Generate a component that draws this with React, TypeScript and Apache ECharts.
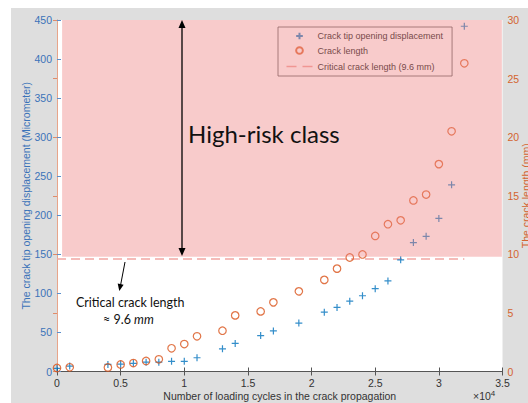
import React, { useEffect, useRef } from 'react';
import * as echarts from 'echarts';

// ---- data ----
const cycles = [0, 1000, 4000, 5000, 6000, 7000, 8000, 9000, 10000, 11000, 13000, 14000, 16000, 17000, 19000, 21000, 22000, 23000, 24000, 25000, 26000, 27000, 28000, 29000, 30000, 31000, 32000];
const ctodMicrometer = [4, 7, 9, 9.5, 10.5, 12, 12, 13, 13, 17.6, 29, 36, 46, 52, 62, 76, 82, 90, 97, 106, 116, 143, 165, 173, 196, 239, 442];
const crackLengthMm = [0.3, 0.36, 0.35, 0.6, 0.72, 0.9, 1.04, 1.98, 2.34, 3.0, 3.48, 4.79, 5.13, 5.9, 6.84, 7.82, 8.78, 9.73, 9.99, 11.57, 12.57, 12.9, 14.6, 15.1, 17.7, 20.5, 26.3];
const criticalLengthMm = 9.6;
const criticalLineCycles = [0, 32000];
const xTickLabels = ['0', '0.5', '1', '1.5', '2', '2.5', '3', '3.5'];
const highRiskZone = [400, 9.8, 34950, 30]; // x0, y0, x1, y1 (cycles, mm)

const names = {
  ctod: 'Crack tip opening displacement',
  crack: 'Crack length',
  critical: 'Critical crack length (9.6 mm)',
};

const BLUE = '#0072BD';
const ORANGE = '#D95319';
const DASH = '#f2a7a2';
const FONT = 'Liberation Sans, Arial, Helvetica, sans-serif';
const PLUS = 'path://M0,0M12,12M2,6L10,6M6,2L6,10';
const RING = 'path://M0,0M12,12M10,6A4,4,0,1,1,2,6A4,4,0,1,1,10,6Z';
const DASHES = 'path://M0,0M26,10M0,5L10,5M16,5L26,5';

export default function App() {
  const ref = useRef<HTMLDivElement>(null);
  useEffect(() => {
    if (!ref.current) return;
    const chart = echarts.init(ref.current, null, { renderer: 'svg' });
    const option: any = {
      animation: false,
      backgroundColor: 'transparent',
      grid: {
        left: 57, right: 25.5, top: 20, bottom: 31.5,
        containLabel: false, outerBoundsMode: 'none',
        show: true, backgroundColor: '#ffffff', borderWidth: 0,
      },
      legend: {
        left: 278, top: 27, orient: 'vertical',
        padding: [3, 9, 2, 6], itemGap: 2.5, itemWidth: 26, itemHeight: 10,
        borderColor: '#555', borderWidth: 0.8, backgroundColor: 'transparent',
        selectedMode: false,
        textStyle: { fontSize: 9, color: '#262626', fontFamily: FONT },
        data: [
          { name: names.ctod, icon: PLUS },
          { name: names.crack, icon: RING },
          {
            name: names.critical, icon: DASHES,
            itemStyle: { color: 'none', borderColor: DASH, borderWidth: 1.5 },
          },
        ],
      },
      xAxis: [
        {
          type: 'value', position: 'bottom', min: 0, max: 35000, interval: 5000,
          axisLine: { show: true, lineStyle: { color: '#555', width: 1 } },
          axisTick: { show: true, inside: true, length: 4, lineStyle: { color: '#555' } },
          axisLabel: {
            color: '#333', fontSize: 10.5, fontFamily: FONT, margin: 6,
            formatter: (v: number) => xTickLabels[Math.round(v / 5000)] ?? '',
          },
          splitLine: { show: false },
          name: 'Number of loading cycles in the crack propagation',
          nameLocation: 'middle', nameGap: 19, nameMoveOverlap: false,
          nameTextStyle: { color: '#333', fontSize: 10.5, fontFamily: FONT },
        },
        {
          type: 'value', position: 'top', min: 0, max: 35000, interval: 5000,
          axisLine: { show: true, lineStyle: { color: '#555', width: 1 } },
          axisTick: { show: true, inside: true, length: 4, lineStyle: { color: '#555' } },
          axisLabel: { show: false },
          splitLine: { show: false },
        },
      ],
      yAxis: [
        {
          type: 'value', position: 'left', min: 0, max: 450, interval: 50,
          axisLine: { show: true, lineStyle: { color: '#8fb3dc', width: 1 } },
          axisTick: { show: true, inside: true, length: 4, lineStyle: { color: '#5b8fcc' } },
          axisLabel: { color: '#3b73b9', fontSize: 10.5, fontFamily: FONT, margin: 5 },
          splitLine: { show: false },
          name: 'The crack tip opening displacement (Micrometer)',
          nameLocation: 'middle', nameGap: 26, nameMoveOverlap: false,
          nameTextStyle: { color: '#3b73b9', fontSize: 10.5, fontFamily: FONT },
        },
        {
          type: 'value', position: 'right', min: 0, max: 30, interval: 5,
          axisLine: { show: true, lineStyle: { color: '#e8a58a', width: 1 } },
          axisTick: { show: true, inside: true, length: 4, lineStyle: { color: '#e08c6a' } },
          axisLabel: { color: '#d4642f', fontSize: 10.5, fontFamily: FONT, margin: 5 },
          splitLine: { show: false },
          name: 'The crack length (mm)',
          nameLocation: 'middle', nameGap: 18, nameMoveOverlap: false,
          nameTextStyle: { color: '#d4642f', fontSize: 10.5, fontFamily: FONT },
        },
      ],
      series: [
        {
          type: 'scatter', name: names.ctod, xAxisIndex: 0, yAxisIndex: 0,
          data: cycles.map((c, i) => [c, ctodMicrometer[i]]),
          symbol: PLUS, symbolSize: 10.5, z: 3,
          itemStyle: { color: BLUE, borderColor: BLUE, borderWidth: 1.2 },
        },
        {
          type: 'scatter', name: names.crack, xAxisIndex: 0, yAxisIndex: 1,
          data: cycles.map((c, i) => [c, crackLengthMm[i]]),
          symbol: 'circle', symbolSize: 7.5, z: 3,
          itemStyle: { color: 'rgba(0,0,0,0)', borderColor: ORANGE, borderWidth: 1.2 },
        },
        {
          type: 'line', name: names.critical, xAxisIndex: 0, yAxisIndex: 1,
          data: criticalLineCycles.map((c) => [c, criticalLengthMm]),
          symbol: 'none', showSymbol: false, z: 2,
          lineStyle: { type: [9, 5], width: 1.5, color: DASH },
          itemStyle: { color: DASH },
        },
        {
          type: 'custom', name: 'high-risk', xAxisIndex: 0, yAxisIndex: 1,
          silent: true, z: 10,
          data: [highRiskZone],
          renderItem: (_p: any, api: any) => {
            const a = api.coord([api.value(0), api.value(3)]);
            const b = api.coord([api.value(2), api.value(1)]);
            return {
              type: 'rect',
              shape: { x: a[0], y: a[1], width: b[0] - a[0], height: b[1] - a[1] },
              style: { fill: 'rgba(238,125,125,0.4)' },
            };
          },
        },
      ],
      graphic: [
        { type: 'line', z: 100, shape: { x1: 182, y1: 26, x2: 182, y2: 250 }, style: { stroke: '#000', lineWidth: 1.3 } },
        { type: 'polygon', z: 100, shape: { points: [[182, 20], [178.5, 28], [185.5, 28]] }, style: { fill: '#000' } },
        { type: 'polygon', z: 100, shape: { points: [[182, 256], [178.5, 248], [185.5, 248]] }, style: { fill: '#000' } },
        {
          type: 'text', z: 100, x: 188, y: 133,
          style: { text: 'High-risk class', fontSize: 24, fontFamily: 'Lato', fill: '#111', verticalAlign: 'middle' },
        },
        { type: 'line', z: 100, shape: { x1: 125, y1: 262, x2: 120.6, y2: 285 }, style: { stroke: '#000', lineWidth: 1 } },
        { type: 'polygon', z: 100, shape: { points: [[119.3, 291], [117.7, 283.5], [123.6, 284.7]] }, style: { fill: '#000' } },
        {
          type: 'text', z: 100, x: 76, y: 302.5,
          style: { text: 'Critical crack length', fontSize: 12.5, fontFamily: 'Lato', fill: '#111', verticalAlign: 'middle' },
        },
        {
          type: 'text', z: 100, x: 103, y: 319.5,
          style: {
            text: '{n|≈ 9.6 }{i|mm}', verticalAlign: 'middle', fill: '#111',
            rich: {
              n: { fontSize: 12.5, fontFamily: 'Lato', fill: '#111' },
              i: { fontSize: 12.5, fontFamily: 'Lato', fontStyle: 'italic', fill: '#111' },
            },
          },
        },
        {
          type: 'text', z: 100, x: 473, y: 396,
          style: {
            text: '{a|×10}{s|4}', verticalAlign: 'middle', fill: '#333',
            rich: {
              a: { fontSize: 10.5, fontFamily: FONT, fill: '#333' },
              s: { fontSize: 8, fontFamily: FONT, fill: '#333', verticalAlign: 'top', padding: [0, 0, 6, 0] },
            },
          },
        },
      ],
    };
    chart.setOption(option);
    return () => chart.dispose();
  }, []);

  return (
    <div style={{ position: 'fixed', left: 0, top: 0, width: 528, height: 403, background: '#ffffff', overflow: 'hidden' }}>
      <div style={{ position: 'absolute', left: 11, top: 8, right: 0, bottom: 0, background: '#dedede' }} />
      <div ref={ref} style={{ position: 'absolute', left: 0, top: 0, width: 528, height: 403 }} />
    </div>
  );
}
